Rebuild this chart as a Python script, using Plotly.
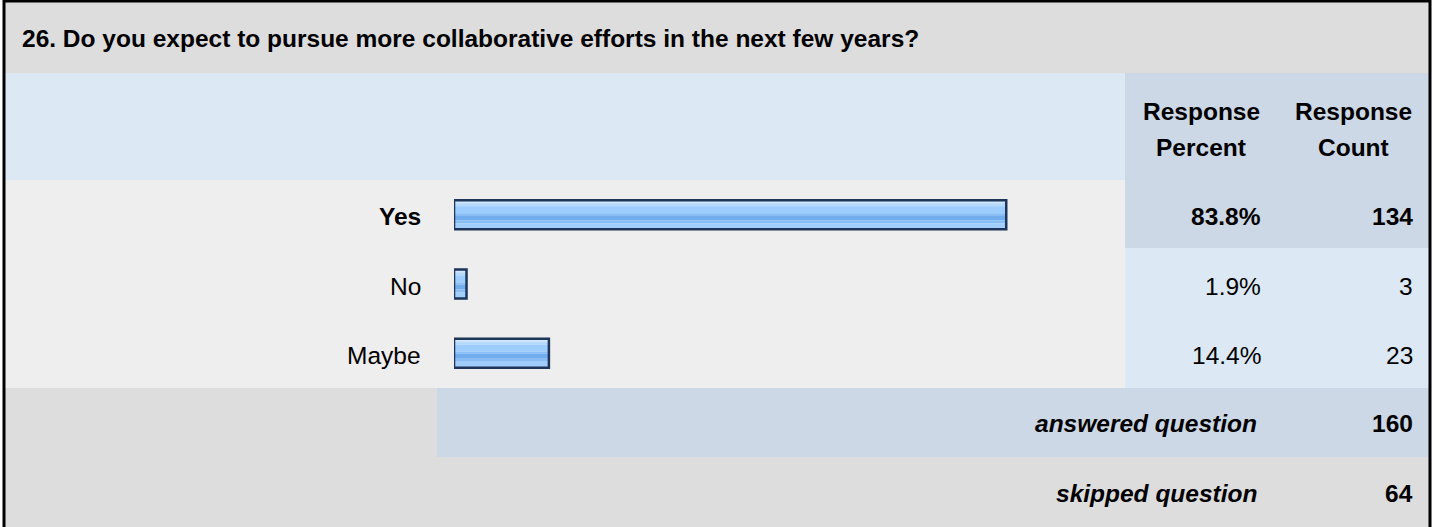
import plotly.graph_objects as go

# ---- data ----
question = "26. Do you expect to pursue more collaborative efforts in the next few years?"
answers = ["Yes", "No", "Maybe"]
percents = [83.8, 1.9, 14.4]
counts = [134, 3, 23]
answered = 160
skipped = 64

W, H = 1432, 527
FONT = "Arial, 'Liberation Sans', sans-serif"
FS = 24.5

# light / dark cell colours
GRAY = "#dddddd"
ROW_BG = "#eeeeee"
BLUE_LT = "#dde8f5"
BLUE_DK = "#ccd8e6"
NAVY = "#1c3558"


def px(x):
    return x / W


def py(y):
    return 1 - y / H


def rect(x0, y0, x1, y1, color):
    return dict(type="rect", xref="paper", yref="paper", layer="below",
                x0=px(x0), x1=px(x1), y0=py(y1), y1=py(y0),
                fillcolor=color, line=dict(width=0))


def hline(x0, x1, y, w=3):
    return dict(type="line", xref="paper", yref="paper",
                x0=px(x0), x1=px(x1), y0=py(y), y1=py(y),
                line=dict(color="black", width=w))


def vline(x, y0, y1, w=3):
    return dict(type="line", xref="paper", yref="paper",
                x0=px(x), x1=px(x), y0=py(y0), y1=py(y1),
                line=dict(color="black", width=w))


fig = go.Figure()

# --- bars: glossy look built from stacked bands ---
ppc = (388 - 180) / 3.0          # pixels per category row
thick = 29                       # bar thickness in px
half = thick / 2 / ppc
bands = [  # (top px, bottom px, colour) within the bar
    (0, 3, "#cfe7ff"),
    (3, 6, "#b3d9ff"),
    (6, 13, "#9dcdff"),
    (13, 15, "#88bff8"),
    (15, 20, "#72adee"),
    (20, 23, "#86bdf5"),
    (23, 29, "#a0cdfa"),
]
for t, b, c in bands:
    fig.add_trace(go.Bar(
        x=percents, y=answers, orientation="h",
        width=(b - t) / ppc, offset=-half + t / ppc,
        marker=dict(color=c, line=dict(width=0)),
        hoverinfo="skip", showlegend=False
    ))
fig.add_trace(go.Bar(
    x=percents, y=answers, orientation="h",
    width=thick / ppc, offset=-half,
    marker=dict(color="rgba(0,0,0,0)", line=dict(color=NAVY, width=2.5)),
    hoverinfo="skip", showlegend=False
))

# --- table backgrounds ---
shapes = [
    rect(5, 2, 1429, 73, GRAY),
    rect(5, 73, 1125, 180, BLUE_LT),
    rect(1125, 73, 1429, 180, BLUE_DK),
    rect(5, 180, 1125, 388, ROW_BG),
    rect(1125, 180, 1429, 248, BLUE_DK),
    rect(1125, 248, 1429, 388, BLUE_LT),
    rect(5, 388, 437, 457, GRAY),
    rect(437, 388, 1429, 457, BLUE_DK),
    rect(5, 457, 1429, 540, GRAY),
    vline(4, 0, 527),
    vline(1430, 0, 527),
    hline(3, 1431, 1),
]

ann = []


def text(x, y, s, anchor="left", bold=False, italic=False, yref="paper", yshift=0):
    if bold:
        s = "<b>" + s + "</b>"
    if italic:
        s = "<i>" + s + "</i>"
    ann.append(dict(x=px(x), xref="paper", y=y, yref=yref, text=s,
                    xanchor=anchor, yanchor="middle", showarrow=False,
                    yshift=yshift, font=dict(family=FONT, size=FS, color="black")))


text(20, py(38.5), question, bold=True)
text(1201, py(111.5), "Response", anchor="center", bold=True)
text(1201, py(148), "Percent", anchor="center", bold=True)
text(1353, py(111.5), "Response", anchor="center", bold=True)
text(1353, py(148), "Count", anchor="center", bold=True)

top = max(percents)
for a, p, c in zip(answers, percents, counts):
    b = p == top
    text(423, a, a, anchor="right", bold=b, yref="y", yshift=-2)
    text(1263, a, f"{p:.1f}%", anchor="right", bold=b, yref="y", yshift=-2)
    text(1415, a, str(c), anchor="right", bold=b, yref="y", yshift=-2)

text(1259, py(423), "answered question", anchor="right", bold=True, italic=True)
text(1415, py(423), str(answered), anchor="right", bold=True)
text(1259, py(493), "skipped question", anchor="right", bold=True, italic=True)
text(1415, py(493), str(skipped), anchor="right", bold=True)

fig.update_layout(
    width=W, height=H,
    margin=dict(l=0, r=0, t=0, b=0),
    paper_bgcolor="white",
    plot_bgcolor="rgba(0,0,0,0)",
    barmode="overlay",
    showlegend=False,
    shapes=shapes,
    annotations=ann,
    xaxis=dict(domain=[px(454), px(1113)], range=[0, 100], visible=False, fixedrange=True),
    yaxis=dict(domain=[py(388), py(180)], type="category", categoryorder="array",
               categoryarray=answers, range=[2.5, -0.5], visible=False, fixedrange=True),
)

# page has a default body margin; drop it so the figure sits at 0,0
fig.write_html("out.html", config={"displayModeBar": False},
               post_script="document.body.style.margin='0';document.body.style.overflow='hidden';")
